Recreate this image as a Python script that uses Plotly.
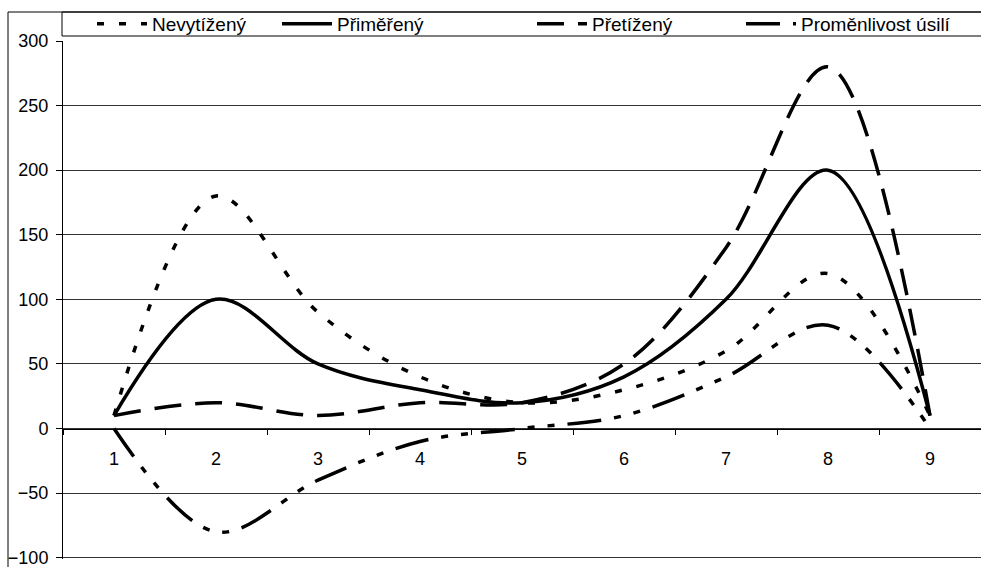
import plotly.graph_objects as go

# Categories on the x axis
categories = ["1", "2", "3", "4", "5", "6", "7", "8", "9"]

# Series values
nevytizeny = [10, 180, 90, 40, 20, 30, 60, 120, 10]
primereny = [10, 100, 50, 30, 20, 40, 100, 200, 10]
pretizeny = [10, 20, 10, 20, 20, 50, 140, 280, 10]
promenlivost = [0, -80, -40, -10, 0, 10, 40, 80, 0]

series_names = ["Nevytížený", "Přiměřený", "Přetížený", "Proměnlivost úsilí"]

# Y axis tick values
y_ticks = [-100, -50, 0, 50, 100, 150, 200, 250, 300]

FONT = "Liberation Sans, Arial, sans-serif"
W, H = 981, 567
ML, MR, MT, MB = 63, 0, 41, 8
PW, PH = W - ML - MR, H - MT - MB
Y_MIN, Y_MAX = -101, 300


def xp(px):
    return (px - ML) / PW


def yp(py):
    return (H - MB - py) / PH


styles = [
    dict(dash="7px,15px", width=3.5),
    dict(dash="solid", width=3.5),
    dict(dash="27px,14px", width=3.5),
    dict(dash="34px,13px,7px,13px,7px,13px", width=3.5),
]
values = [nevytizeny, primereny, pretizeny, promenlivost]
legend_ids = ["legend", "legend2", "legend3", "legend4"]
legend_x = [92, 277, 532, 741]

fig = go.Figure()
for name, vals, st, lid in zip(series_names, values, styles, legend_ids):
    fig.add_trace(go.Scatter(
        x=categories, y=vals, name=name, mode="lines",
        line=dict(color="black", width=st["width"], dash=st["dash"],
                  shape="spline", smoothing=1.0),
        legend=lid, cliponaxis=False,
    ))

legend_common = dict(
    orientation="h", xref="container", yref="container",
    xanchor="left", yanchor="middle", y=1 - 24 / H,
    font=dict(family=FONT, size=19, color="black"),
    bgcolor="rgba(0,0,0,0)", borderwidth=0, itemwidth=50,
    itemclick=False, itemdoubleclick=False,
)
layout_legends = {}
for lid, lx in zip(legend_ids, legend_x):
    layout_legends[lid] = dict(legend_common, x=lx / W)

fig.update_layout(
    width=W, height=H,
    margin=dict(l=ML, r=MR, t=MT, b=MB, pad=0, autoexpand=False),
    paper_bgcolor="white", plot_bgcolor="white",
    showlegend=True,
    font=dict(family=FONT, size=18, color="black"),
    xaxis=dict(
        type="category", categoryorder="array", categoryarray=categories,
        range=[-0.5, 8.5], anchor="free",
        position=(0 - Y_MIN) / (Y_MAX - Y_MIN),
        showline=True, linecolor="black", linewidth=1,
        ticks="outside", tickson="boundaries", ticklen=5, tickcolor="black",
        showgrid=False, zeroline=False, automargin=False,
        tickfont=dict(family=FONT, size=18, color="black"),
        ticklabelstandoff=14,
    ),
    yaxis=dict(
        range=[Y_MIN, Y_MAX], tickvals=y_ticks, domain=[0, 1],
        showline=True, linecolor="black", linewidth=1,
        ticks="outside", ticklen=6, tickcolor="black",
        showgrid=True, gridcolor="#333333", gridwidth=1,
        zeroline=False, automargin=False, ticklabeloverflow="allow",
        tickfont=dict(family=FONT, size=18, color="black"),
        ticklabelstandoff=4,
    ),
    shapes=[
        # chart frame
        dict(type="rect", xref="paper", yref="paper",
             x0=xp(8), x1=xp(W + 20), y0=yp(H + 20), y1=yp(12),
             line=dict(color="black", width=1), layer="below"),
        # legend frame
        dict(type="rect", xref="paper", yref="paper",
             x0=xp(62), x1=xp(W + 20), y0=yp(36), y1=yp(12),
             line=dict(color="black", width=1), layer="below"),
    ],
    **layout_legends,
)

fig.write_html("out.html")
